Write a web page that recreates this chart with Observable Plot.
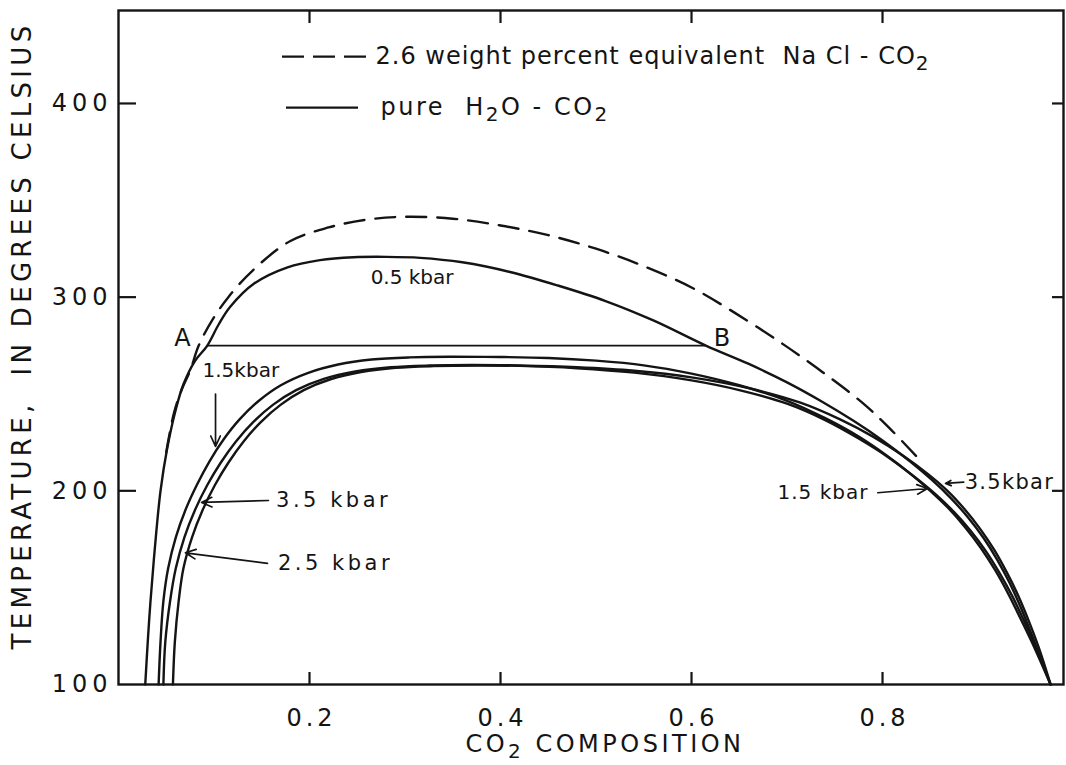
<!DOCTYPE html>
<html><head><meta charset="utf-8">
<script src="https://cdn.jsdelivr.net/npm/d3@7"></script>
<script src="https://cdn.jsdelivr.net/npm/@observablehq/plot@0.6"></script>
<style>
html,body{margin:0;padding:0;background:#fff;}
#chart svg{display:block;}
</style>
</head><body><div id="chart"></div>
<script>
// ---- axis ticks ----
const xTicks = [0.2, 0.4, 0.6, 0.8];
const yTicks = [100, 200, 300, 400];
const yInnerTicks = [200, 300, 400];

// ---- pure H2O-CO2 solvi (x = CO2 composition, t = temperature °C) ----
const x05 = [0.028,0.031,0.0335,0.038,0.044,0.051,0.060,0.068,0.080,0.093,0.105,0.117,0.142,0.177,0.211,0.246,0.28,0.316,0.36,0.41,0.46,0.51,0.56,0.615,0.66,0.70,0.735,0.77,0.80,0.828,0.852,0.872,0.89,0.906,0.92,0.933,0.945,0.956,0.966,0.976];
const t05 = [100,125,143,170,200,222,242,255,267,275,286,295,307,315.4,319.1,320.6,320.8,320.3,318,313,306,298,288,275,265.5,256,246.5,236,226,215.5,205.5,196,186,175.5,164.5,152.5,139.5,126,113,100];

const x15 = [0.042,0.044,0.047,0.052,0.060,0.070,0.082,0.095,0.110,0.127,0.147,0.170,0.198,0.23,0.265,0.305,0.35,0.40,0.45,0.50,0.55,0.60,0.65,0.70,0.74,0.775,0.805,0.83,0.85,0.868,0.886,0.903,0.918,0.932,0.946,0.96,0.976];
const t15 = [100,122,143,160,176,190,203,215,226.5,237,246.5,254.5,260.8,265.2,267.8,268.9,269.2,269.1,268.6,267.2,264.8,260.5,254.5,246.5,237.5,228,218,208.5,200,191.5,181.5,170.5,159,146.5,132.5,118,100];

const x35 = [0.047,0.049,0.054,0.060,0.069,0.080,0.093,0.107,0.123,0.141,0.162,0.186,0.215,0.248,0.285,0.325,0.37,0.42,0.48,0.54,0.60,0.66,0.714,0.755,0.79,0.822,0.848,0.868,0.886,0.902,0.917,0.93,0.942,0.953,0.964,0.976];
const t35 = [100,122,143,160,176,190,203,214.5,225.5,235.5,244.5,252,257.8,261.6,263.8,264.7,265,264.7,263.8,262,258.6,253,245.5,237,228,218,208.5,200,190.5,180.5,169.5,158,146,133,118.5,100];

const x25 = [0.057,0.059,0.063,0.068,0.077,0.088,0.101,0.115,0.131,0.149,0.170,0.194,0.222,0.254,0.29,0.33,0.375,0.42,0.48,0.54,0.60,0.65,0.70,0.74,0.775,0.807,0.834,0.856,0.875,0.892,0.908,0.922,0.936,0.949,0.962,0.976];
const t25 = [100,122,143,160,176,190,203,214.5,225.5,235.5,244.5,252,257.6,261.3,263.5,264.4,264.7,264.5,263.3,261,257,252,245,236.5,227,217,207,198,189,179.5,169,158,145.5,132,117.5,100];

// ---- 2.6 wt% equivalent NaCl - CO2 (dashed) ----
const xNaCl = [0.05,0.058,0.066,0.075,0.084,0.098,0.115,0.141,0.18,0.22,0.26,0.30,0.35,0.40,0.45,0.50,0.55,0.60,0.645,0.695,0.738,0.78,0.81,0.837];
const tNaCl = [220,240,252,262,275,288,300,314,329,336,340,341.5,340.5,337,332,325,316,305,292,276,261,245,231,217];

// ---- tie line A-B ----
const tieT = 275, tieXA = 0.093, tieXB = 0.615;

// ---- annotations ----
const labelText = ["0.5 kbar","A","B","1.5kbar","3.5 kbar","2.5 kbar","1.5 kbar","3.5kbar"];
const labelX    = [0.264, 0.067, 0.632, 0.088, 0.165, 0.167, 0.69, 0.886];
const labelT    = [310, 278.6, 278.6, 262, 195, 162.5, 199, 204.5];
const labelSize = [20, 24, 24, 20, 21, 21, 20, 21];
const labelAnchor = ["start","middle","middle","start","start","start","start","start"];
const labelSpacing = [0, 0, 0, 0, 3.5, 3.5, 1, 1.3];

const arrowX1 = [0.1016, 0.157, 0.156, 0.795, 0.885];
const arrowT1 = [250, 195, 162.5, 199, 204.5];
const arrowX2 = [0.1016, 0.087, 0.070, 0.847, 0.866];
const arrowT2 = [223, 194, 168, 201.2, 203.8];

// ---- legend & titles ----
const legendDashed = "2.6 weight percent equivalent  Na Cl - CO₂";
const legendSolid = "pure  H₂O - CO₂";
const legendKeyX1 = [0.1717, 0.1759];
const legendKeyX2 = [0.2681, 0.2513];
const legendKeyT = [424.2, 397.9];
const yTitle = "TEMPERATURE,  IN DEGREES CELSIUS";
const xTitle = "CO₂ COMPOSITION";

// ---- build tables ----
const series = [
  {name: "0.5 kbar", xs: x05, ts: t05},
  {name: "1.5 kbar", xs: x15, ts: t15},
  {name: "3.5 kbar", xs: x35, ts: t35},
  {name: "2.5 kbar", xs: x25, ts: t25}
];
const solidRows = series.flatMap(s => s.xs.map((x, i) => ({series: s.name, x, t: s.ts[i]})));
const dashedRows = xNaCl.map((x, i) => ({x, t: tNaCl[i]}));
const labels = labelText.map((text, i) => ({text, x: labelX[i], t: labelT[i], size: labelSize[i], anchor: labelAnchor[i], sp: labelSpacing[i]}));
const arrows = arrowX1.map((x1, i) => ({x1, t1: arrowT1[i], x2: arrowX2[i], t2: arrowT2[i]}));
const legendKeys = legendKeyT.map((t, i) => ({t, x1: legendKeyX1[i], x2: legendKeyX2[i]}));

const W = 1066, H = 765, mL = 118, mR = 3, mT = 10, mB = 81;
const plotW = W - mL - mR, plotH = H - mT - mB;
const ink = "#141414";
const font = "DejaVu Sans";

const labelMarks = [20, 21, 24].flatMap(size => ["start", "middle"].map(anchor =>
  Plot.text(labels.filter(d => d.size === size && d.anchor === anchor), {
    x: "x", y: "t", text: "text", fontSize: size, textAnchor: anchor, fill: ink,
    ariaDescription: "annot"
  })));

const chart = Plot.plot({
  width: W, height: H,
  marginLeft: mL, marginRight: mR, marginTop: mT, marginBottom: mB,
  style: {fontFamily: font, fontSize: "24px", color: ink, background: "white"},
  x: {domain: [0, 0.9895]},
  y: {domain: [100, 448]},
  marks: [
    Plot.line(solidRows, {x: "x", y: "t", z: "series", curve: "catmull-rom", stroke: ink, strokeWidth: 2.4}),
    Plot.line(dashedRows, {x: "x", y: "t", curve: "catmull-rom", stroke: ink, strokeWidth: 2.4, strokeDasharray: "20,11"}),
    Plot.ruleY([tieT], {x1: tieXA, x2: tieXB, stroke: ink, strokeWidth: 1.7}),
    Plot.arrow(arrows, {x1: "x1", y1: "t1", x2: "x2", y2: "t2", stroke: ink, strokeWidth: 1.7, headLength: 10, headAngle: 50}),
    ...labelMarks,
    // legend
    Plot.ruleY(legendKeys.slice(0, 1), {y: "t", x1: "x1", x2: "x2", stroke: ink, strokeWidth: 2.2, strokeDasharray: "22,9"}),
    Plot.ruleY(legendKeys.slice(1), {y: "t", x1: "x1", x2: "x2", stroke: ink, strokeWidth: 2.2}),
    Plot.text([legendDashed], {frameAnchor: "top-left", dx: 257, dy: 46, lineAnchor: "middle", fontSize: 24, fill: ink, ariaDescription: "legend"}),
    Plot.text([legendSolid], {frameAnchor: "top-left", dx: 262, dy: 97, lineAnchor: "middle", fontSize: 24, fill: ink, ariaDescription: "legend2"}),
    // titles
    Plot.text([yTitle], {frameAnchor: "left", textAnchor: "middle", dx: -96, dy: -12, rotate: -90, fontSize: 26, fill: ink, ariaDescription: "ytitle"}),
    Plot.text([xTitle], {frameAnchor: "bottom", dx: 14, dy: 60, lineAnchor: "middle", fontSize: 24, fill: ink, ariaDescription: "xtitle"}),
    // frame and inward ticks
    Plot.frame({stroke: ink, strokeWidth: 2.4}),
    Plot.tickX(xTicks, {x: d => d, insetTop: plotH - 12, stroke: ink, strokeWidth: 2.2}),
    Plot.tickX(xTicks, {x: d => d, insetBottom: plotH - 13, stroke: ink, strokeWidth: 2.2}),
    Plot.tickY(yInnerTicks, {y: d => d, insetRight: plotW - 18, stroke: ink, strokeWidth: 2.2}),
    Plot.tickY(yInnerTicks, {y: d => d, insetLeft: plotW - 11, stroke: ink, strokeWidth: 2.2}),
    Plot.axisY({ticks: yTicks, tickSize: 0, tickPadding: 6, fontSize: 24, label: null, fill: ink}),
    Plot.axisX({ticks: xTicks, tickSize: 0, tickPadding: 24, fontSize: 24, label: null, fill: ink, tickFormat: d => d.toFixed(1)})
  ]
});

document.getElementById("chart").appendChild(chart);
const svg = d3.select(chart);

// letter spacing
svg.selectAll('[aria-label="y-axis tick label"] text').style("letter-spacing", "5px");
svg.selectAll('[aria-label="x-axis tick label"] text').style("letter-spacing", "4px").attr("dx", 2);
svg.selectAll('g[aria-description="ytitle"] text').style("letter-spacing", "4.3px");
svg.selectAll('g[aria-description="xtitle"] text').style("letter-spacing", "3.5px");
svg.selectAll('g[aria-description="legend"] text').style("letter-spacing", "1px");
svg.selectAll('g[aria-description="legend2"] text').style("letter-spacing", "2.5px");
svg.selectAll('g[aria-description="annot"] text').each(function() {
  const el = d3.select(this);
  const d = labels.find(l => l.text === el.text());
  if (d && d.sp) el.style("letter-spacing", d.sp + "px");
});

// subscripts
svg.selectAll("text").each(function() {
  const el = d3.select(this);
  const t = el.text();
  if (!t.includes("₂")) return;
  const parts = t.split("₂");
  el.text(null);
  parts.forEach((p, i) => {
    const sp = el.append("tspan").text(p);
    if (i > 0) sp.attr("dy", "-6");
    if (i < parts.length - 1) el.append("tspan").attr("dy", "6").attr("font-size", "20").text("2");
  });
});
</script>
</body></html>
